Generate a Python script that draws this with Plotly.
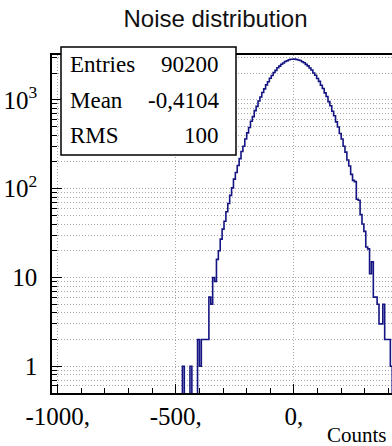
import plotly.graph_objects as go
import math

# ---- histogram contents (8-unit bins, lower edge of first listed bin = -480) ----
bin_width = 8
first_edge = -480
counts = [
    0, 1, 0, 0, 0, 1, 0, 0, 0, 2,          # -480 .. -408
    1, 2, 2, 2, 2, 6, 5, 10, 9, 16,        # -400 .. -328
    20, 27, 35, 43, 55, 68, 84, 102, 128, 152,   # -320 .. -248
    182, 218, 262, 300, 362, 425, 488, 575, 648, 756,  # -240 .. -168
    845, 970, 1075, 1212, 1330, 1475, 1598, 1752, 1880, 2030,  # -160 .. -88
    2150, 2295, 2398, 2520, 2605, 2705, 2760, 2830, 2862, 2870,  # -80 .. -8
    2885, 2850, 2815, 2775, 2690, 2620, 2510, 2415, 2280, 2165,  # 0 .. 72
    2010, 1895, 1740, 1615, 1460, 1340, 1198, 1090, 955, 860,    # 80 .. 152
    745, 662, 565, 495, 418, 362, 300, 258, 210, 180,            # 160 .. 232
    145, 124, 120, 76, 74, 51, 40, 33, 22, 21,                   # 240 .. 312
    11, 15, 6, 6, 5, 3, 3, 5, 2, 2,                              # 320 .. 392
    2, 1, 0,                                                     # 400 .. 416
]

# ---- statistics box ----
stat_names = ["Entries", "Mean", "RMS"]
stat_values = ["90200", "-0,4104", "100"]

# ---- axis labels ----
x_tickvals = [-1000, -500, 0]
x_ticktext = ["-1000,", "-500,", "0,"]
y_tickvals = [1, 10, 100, 1000]
y_ticktext = ["1", "10", "10<sup>2</sup>", "10<sup>3</sup>"]

x_range = [-1024, 415]
y_range = [0.5, 3200]

# step outline: bin edges with the content held across each bin
edges = [first_edge + i * bin_width for i in range(len(counts) + 1)]
floor = 1e-2  # empty bins drop below the visible log range
y_step = [c if c > 0 else floor for c in counts]
y_step.append(y_step[-1])

W, H = 392, 446
ml, mr, mt, mb = 52, 0, 55, 53
pw, ph = W - ml - mr, H - mt - mb

def px_x(p):
    return (p - ml) / pw

def px_y(p):
    return (H - mb - p) / ph

serif = "Liberation Serif, Times New Roman, serif"
sans = "Liberation Sans, Arial, sans-serif"

fig = go.Figure()
fig.add_trace(go.Scatter(
    x=edges, y=y_step, mode="lines", line_shape="hv",
    line=dict(color="rgb(20,20,130)", width=1.6),
    hoverinfo="skip", showlegend=False,
))

grid_col = "#a8a8a8"
grid_dash = "1px,2px"
fig.update_xaxes(
    range=x_range, tickvals=x_tickvals, ticktext=x_ticktext,
    ticks="inside", ticklen=9, tickwidth=1.2, tickcolor="black",
    showline=True, linecolor="black", linewidth=1.5, mirror=True,
    showgrid=True, gridcolor=grid_col, griddash=grid_dash, gridwidth=1,
    zeroline=False,
    minor=dict(dtick=100, tick0=0, ticks="inside", ticklen=5, tickcolor="black",
               tickwidth=1.2, showgrid=False),
    tickfont=dict(family=serif, size=25, color="black"),
    ticklabelstandoff=0,
)
fig.update_yaxes(
    type="log", range=[math.log10(y_range[0]), math.log10(y_range[1])],
    tickvals=y_tickvals, ticktext=y_ticktext,
    ticks="inside", ticklen=10, tickwidth=1.2, tickcolor="black",
    showline=True, linecolor="black", linewidth=1.5, mirror=False,
    showgrid=True, gridcolor=grid_col, griddash=grid_dash, gridwidth=1,
    zeroline=False,
    minor=dict(dtick="D1", ticks="inside", ticklen=5, tickcolor="black",
               tickwidth=1.2, showgrid=True, gridcolor=grid_col,
               griddash=grid_dash, gridwidth=1),
    tickfont=dict(family=serif, size=25, color="black"),
    ticklabelstandoff=8,
)

# statistics box
box_l, box_r, box_t, box_b = 61, 236, 47, 155
fig.add_shape(type="rect", xref="paper", yref="paper",
              x0=px_x(box_l), x1=px_x(box_r), y0=px_y(box_b), y1=px_y(box_t),
              fillcolor="white", line=dict(color="black", width=1.5), layer="above")
row_y = [64, 100, 135]
for name, val, ry in zip(stat_names, stat_values, row_y):
    fig.add_annotation(x=px_x(68), y=px_y(ry), xref="paper", yref="paper",
                       text=name, showarrow=False, xanchor="left", yanchor="middle",
                       font=dict(family=serif, size=23, color="black"))
    fig.add_annotation(x=px_x(221), y=px_y(ry), xref="paper", yref="paper",
                       text=val, showarrow=False, xanchor="right", yanchor="middle",
                       font=dict(family=serif, size=23, color="black"))

# x-axis title at the lower right
fig.add_annotation(x=px_x(389), y=px_y(435), xref="paper", yref="paper",
                   text="Counts", showarrow=False, xanchor="right", yanchor="middle",
                   font=dict(family=serif, size=21, color="black"))

fig.update_layout(
    width=W, height=H,
    margin=dict(l=ml, r=mr, t=mt, b=mb, pad=0),
    paper_bgcolor="white", plot_bgcolor="white",
    title=dict(text="Noise distribution", x=215.5 / W, xanchor="center",
               xref="container", yref="container", y=1 - 19 / H, yanchor="middle",
               font=dict(family=sans, size=24, color="#111111")),
    showlegend=False,
)

fig.write_html("out.html")
